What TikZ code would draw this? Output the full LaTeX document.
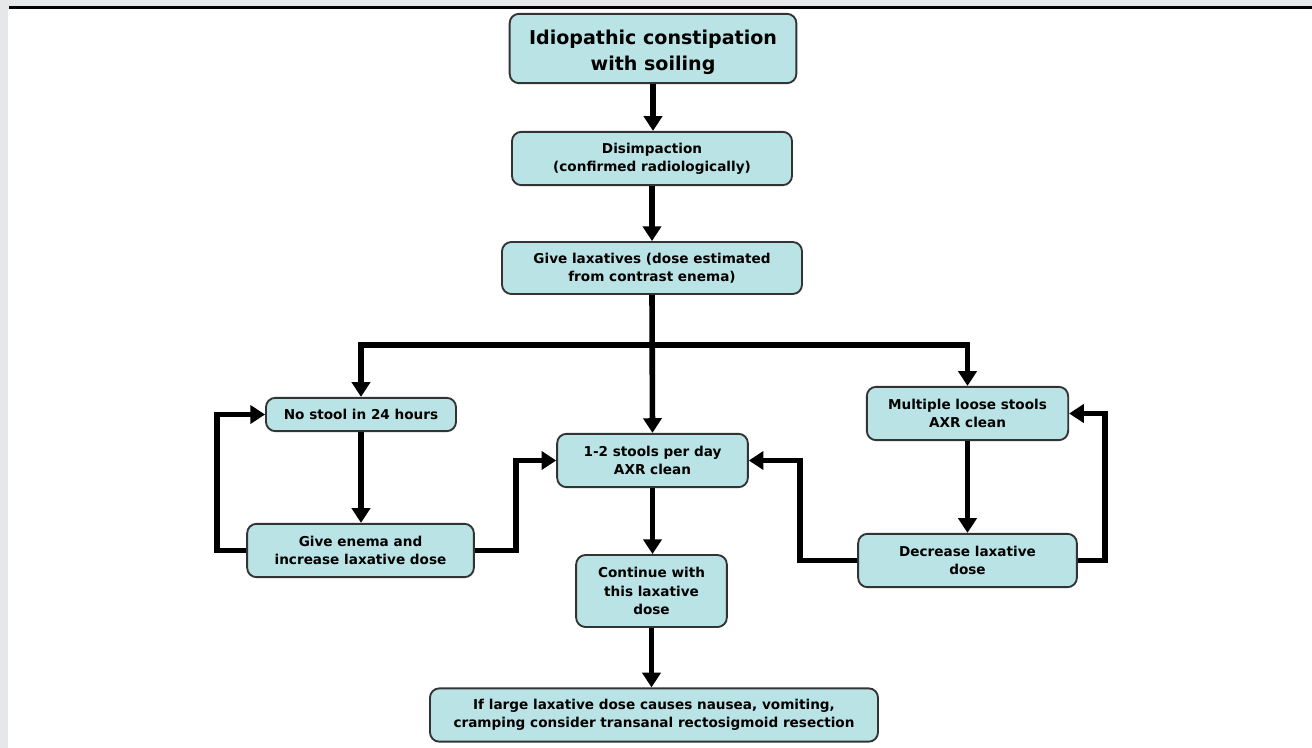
\documentclass[tikz,border=0pt]{standalone}
\usepackage{fontspec}
\setmainfont{DejaVu Sans}
\usetikzlibrary{arrows.meta,calc}
\definecolor{boxfill}{HTML}{B9E3E5}
\definecolor{bggray}{HTML}{E6E7E8}
\definecolor{boxline}{HTML}{333333}
\begin{document}
\begin{tikzpicture}[x=0.75pt,y=-0.75pt,
  box/.style={draw=boxline, line width=1.4pt, fill=boxfill, rounded corners=7pt,
    align=center, inner sep=0pt, font=\bfseries\fontsize{10.2}{13.6}\selectfont},
  arr/.style={line width=4.2pt, -{Triangle[length=11pt,width=13.5pt]}},
  ln/.style={line width=4.2pt}]
\useasboundingbox (0,0) rectangle (1312,748);
\fill[bggray] (0,0) rectangle (1312,748);
\fill[white] (8,9) rectangle (1312,748);
\draw[line width=2.3pt] (9,7.5) -- (1312,7.5);

\node[box, minimum width=215pt, minimum height=52pt, font=\bfseries\fontsize{14.3}{19.5}\selectfont] (top) at (653,48.5) {\raisebox{-6.5pt}[0pt][0pt]{\parbox{200pt}{\centering Idiopathic constipation\\with soiling}}};
\node[box, minimum width=210pt, minimum height=40pt] (dis) at (652,158.5) {Disimpaction\\(confirmed radiologically)};
\node[box, minimum width=225pt, minimum height=39pt] (lax) at (652,268) {Give laxatives (dose estimated\\from contrast enema)};
\node[box, minimum width=142.5pt, minimum height=25pt] (nos) at (361,414.5) {No stool in 24 hours};
\node[box, minimum width=143pt, minimum height=40pt] (one) at (652.5,460.5) {1-2 stools per day\\AXR clean};
\node[box, minimum width=151pt, minimum height=40pt] (mul) at (967.5,413.5) {Multiple loose stools\\AXR clean};
\node[box, minimum width=170pt, minimum height=40pt] (ene) at (360.5,550.5) {Give enema and\\increase laxative dose};
\node[box, minimum width=164pt, minimum height=40pt] (dec) at (967.5,560.5) {Decrease laxative\\dose};
\node[box, minimum width=113pt, minimum height=54pt] (con) at (651.5,591) {Continue with\\this laxative\\dose};
\node[box, minimum width=336pt, minimum height=40pt] (fin) at (654,715) {If large laxative dose causes nausea, vomiting,\\cramping consider transanal rectosigmoid resection};

\coordinate (br) at (652,345);
\draw[arr] (top.south) -- (top.south |- dis.north);
\draw[arr] (dis.south) -- (lax.north);
\draw[arr] (lax.south) -- (one.north);
\draw[arr] (br) -| (nos.north);
\draw[arr] (br) -| (mul.north);
\draw[arr] (nos.south) -- (nos.south |- ene.north);
\draw[arr] (ene.west) -- (217,550.5) |- (nos.west);
\draw[arr] (ene.east) -- (516,550.5) |- (one.west);
\draw[arr] (mul.south) -- (mul.south |- dec.north);
\draw[arr] (dec.east) -- (1105,560.5) |- (mul.east);
\draw[arr] (dec.west) -- (800,560.5) |- (one.east);
\draw[arr] (one.south) -- (one.south |- con.north);
\draw[arr] (con.south) -- (con.south |- fin.north);
\end{tikzpicture}
\end{document}
